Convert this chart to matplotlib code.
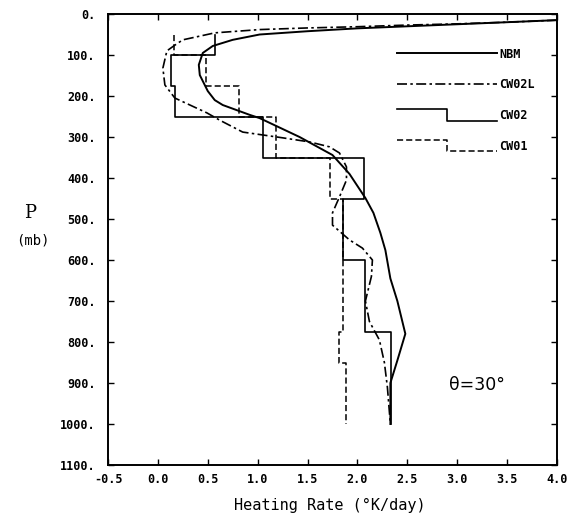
import numpy as np
import matplotlib
matplotlib.use("Agg")
import matplotlib.pyplot as plt
from matplotlib.lines import Line2D
from matplotlib.legend_handler import HandlerBase

# NBM profile (smooth curve)
nbm_x = [4.0, 3.5, 3.0, 2.5, 2.0, 1.5, 1.02, 0.75, 0.55, 0.45, 0.41, 0.42, 0.50,
         0.57, 0.65, 0.92, 1.02, 1.42, 1.75, 1.92, 2.08, 2.16, 2.23, 2.28, 2.33,
         2.40, 2.48, 2.40, 2.33, 2.33]
nbm_p = [15, 20, 25, 30, 35, 42, 50, 63, 78, 95, 124, 149, 188,
         210, 222, 246, 254, 300, 344, 390, 449, 485, 534, 576, 645,
         700, 780, 845, 900, 1000]

# CW02L profile (dash-dot curve)
cw02l_x = [4.0, 3.5, 3.0, 2.5, 2.0, 1.5, 1.02, 0.57, 0.25, 0.17, 0.09, 0.05, 0.07,
           0.17, 0.49, 0.62, 0.85, 1.25, 1.52, 1.72, 1.82, 1.89, 1.89, 1.82, 1.75,
           1.75, 1.92, 2.05, 2.15, 2.14, 2.08, 2.12, 2.22, 2.27, 2.30, 2.33]
cw02l_p = [15, 20, 24, 27, 31, 34, 38, 46, 63, 76, 90, 132, 173,
           205, 241, 259, 288, 302, 312, 324, 339, 373, 405, 446, 485,
           515, 551, 571, 600, 640, 700, 750, 795, 850, 910, 1000]

# layer models (step profiles)
cw02_edges = [50, 100, 175, 250, 350, 450, 600, 775, 1000]
cw02_vals = [0.57, 0.13, 0.17, 1.05, 2.07, 1.86, 2.08, 2.34]
cw01_edges = [50, 100, 175, 250, 350, 450, 775, 850, 1000]
cw01_vals = [0.16, 0.48, 0.81, 1.18, 1.72, 1.86, 1.82, 1.89]

xticks = [-0.5, 0.0, 0.5, 1.0, 1.5, 2.0, 2.5, 3.0, 3.5, 4.0]
xtick_labels = ["-0.5", "0.0", "0.5", "1.0", "1.5", "2.0", "2.5", "3.0", "3.5", "4.0"]
yticks = list(range(0, 1101, 100))
ytick_labels = [f"{v}." for v in yticks]


def step_profile(edges, vals):
    xs = np.repeat(vals, 2)
    ps = np.r_[edges[0], np.repeat(edges[1:-1], 2), edges[-1]]
    return xs, ps


class StepHandler(HandlerBase):
    # legend key drawn as a little step
    def __init__(self, dashes=None):
        super().__init__()
        self.dashes = dashes

    def create_artists(self, legend, orig_handle, xdescent, ydescent,
                       width, height, fontsize, trans):
        x0 = -xdescent
        xs = [x0, x0 + width * 0.5, x0 + width * 0.5, x0 + width]
        ys = [height * 1.2, height * 1.2, -height * 0.2, -height * 0.2]
        ln = Line2D(xs, ys, color=orig_handle.get_color(),
                    linewidth=orig_handle.get_linewidth())
        if self.dashes:
            ln.set_dashes(self.dashes)
        ln.set_transform(trans)
        return [ln]


mono = "DejaVu Sans Mono"

fig = plt.figure(figsize=(5.85, 5.19), dpi=100)
ax = fig.add_axes([108 / 585, 1 - 465 / 519, 449 / 585, 451 / 519])

l_nbm, = ax.plot(nbm_x, nbm_p, color="black", lw=1.4, label="NBM")
l_cw02l, = ax.plot(cw02l_x, cw02l_p, color="black", lw=1.2,
                   dashes=(6, 2, 1.5, 2), label="CW02L")
x2, p2 = step_profile(cw02_edges, cw02_vals)
l_cw02, = ax.plot(x2, p2, color="black", lw=1.2, label="CW02")
x1, p1 = step_profile(cw01_edges, cw01_vals)
l_cw01, = ax.plot(x1, p1, color="black", lw=1.1, dashes=(4, 2), label="CW01")

ax.set_xlim(-0.5, 4.0)
ax.set_ylim(1100, 0)
ax.set_xticks(xticks)
ax.set_xticklabels(xtick_labels)
ax.set_yticks(yticks)
ax.set_yticklabels(ytick_labels)
ax.tick_params(direction="in", length=4, width=1, top=True, right=True,
               labelsize=8.5)
ax.tick_params(axis="x", pad=6)
ax.tick_params(axis="y", pad=9)
for lab in ax.get_xticklabels() + ax.get_yticklabels():
    lab.set_fontfamily(mono)
    lab.set_fontweight("bold")
for s in ax.spines.values():
    s.set_linewidth(1.4)

leg = ax.legend(handles=[l_nbm, l_cw02l, l_cw02, l_cw01],
                handler_map={l_cw02: StepHandler(),
                             l_cw01: StepHandler(dashes=(4, 2))},
                loc="upper right", bbox_to_anchor=(0.975, 0.949), frameon=False,
                handlelength=8.4, handletextpad=0.25, labelspacing=1.5,
                prop={"family": mono, "size": 8.5, "weight": "bold"})

ax.text(3.2, 905, "θ=30°", fontsize=12.5, family="DejaVu Sans", ha="center", va="center")

fig.text(330 / 585, 1 - 505 / 519, "Heating Rate (°K/day)", family=mono,
         fontsize=11, ha="center", va="center")
fig.text(30 / 585, 1 - 213 / 519, "P", family="DejaVu Serif", fontsize=13,
         ha="center", va="center")
fig.text(33 / 585, 1 - 240 / 519, "(mb)", family=mono, fontsize=10,
         ha="center", va="center")

fig.savefig("out.png", dpi=100)
